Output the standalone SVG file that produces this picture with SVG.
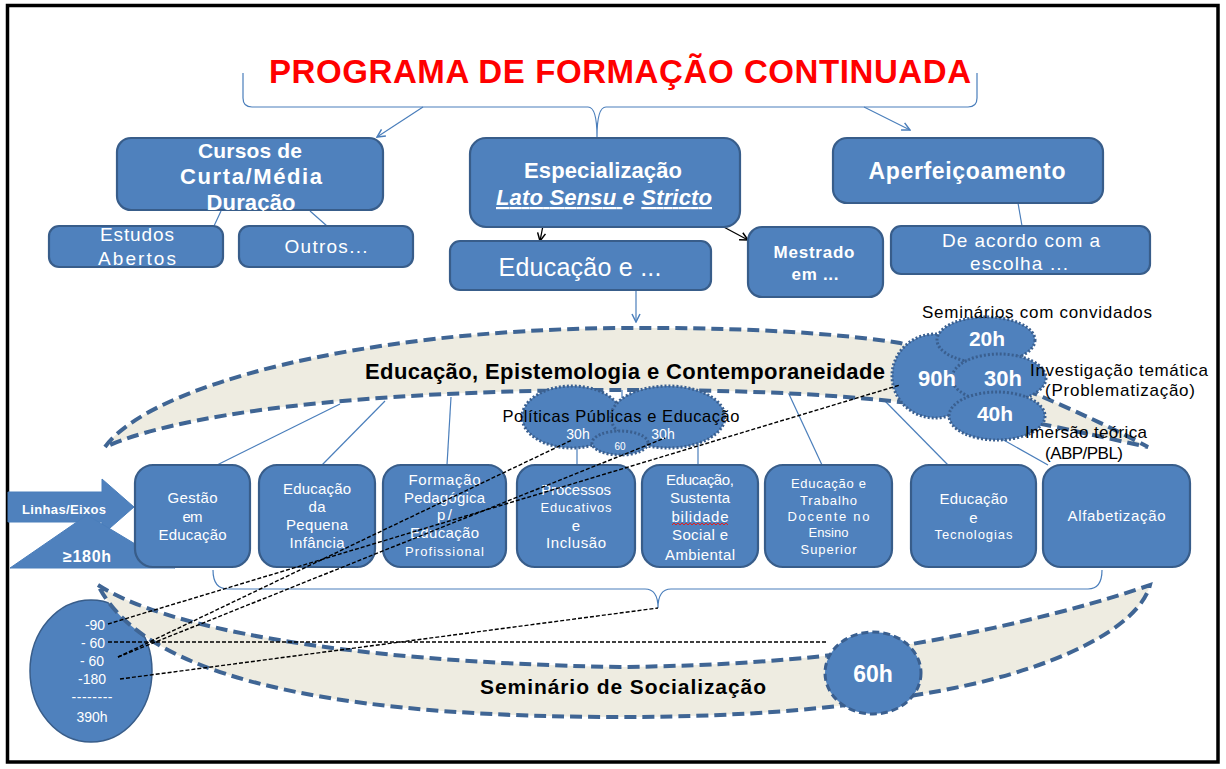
<svg xmlns="http://www.w3.org/2000/svg" width="1226" height="769" viewBox="0 0 1226 769">
<defs>
<style>
text{font-family:"Liberation Sans",Arial,sans-serif}
.box{fill:#4F81BD;stroke:#385D8A;stroke-width:2.2}
.w{fill:#fff;text-anchor:middle}
.k{fill:#000;text-anchor:middle}
.b{font-weight:bold}
.conn{stroke:#4A7EBB;stroke-width:1.2;fill:none}
.blk{stroke:#000;stroke-width:1.3;fill:none}
.dsh{stroke:#000;stroke-width:1.4;stroke-dasharray:4 2;fill:none}
.band{fill:#EEECE1;stroke:#3F6594;stroke-width:4;stroke-dasharray:12 6}
.dot{fill:#4F81BD;stroke:#3A5F8F;stroke-width:3;stroke-dasharray:2 2}
</style>
<marker id="ab" viewBox="0 0 10 10" refX="9" refY="5" markerWidth="10" markerHeight="10" markerUnits="userSpaceOnUse" orient="auto"><path d="M1,1 L9,5 L1,9" fill="none" stroke="#4A7EBB" stroke-width="1.5"/></marker>
<marker id="ak" viewBox="0 0 10 10" refX="9" refY="5" markerWidth="10" markerHeight="10" markerUnits="userSpaceOnUse" orient="auto"><path d="M1,1 L9,5 L1,9" fill="none" stroke="#000" stroke-width="1.5"/></marker>
</defs>
<rect x="0" y="0" width="1226" height="769" fill="#fff"/>
<rect x="7.5" y="5.5" width="1210.5" height="756.5" fill="none" stroke="#000" stroke-width="3.5"/>

<g id="title">
<text x="620" y="83" font-size="33" font-weight="bold" fill="#FF0000" text-anchor="middle" textLength="702">PROGRAMA DE FORMAÇÃO CONTINUADA</text>
<path class="conn" d="M243,73 L243,98 Q243,107 252,107 L588,107 Q597,107 597,137 Q597,107 606,107 L968,107 Q977,107 977,98 L977,73"/>
</g>

<g id="connectors">
<line class="conn" x1="423" y1="107" x2="377" y2="137" marker-end="url(#ab)"/>
<line class="conn" x1="864" y1="107" x2="910" y2="130" marker-end="url(#ab)"/>
<line class="conn" x1="221" y1="211" x2="214" y2="226"/>
<line class="conn" x1="310" y1="211" x2="327" y2="226"/>
<line class="conn" x1="1018" y1="203" x2="1022" y2="226"/>
<line class="conn" x1="636" y1="290" x2="636" y2="322" marker-end="url(#ab)"/>
<line class="conn" x1="340" y1="404" x2="217" y2="465"/>
<line class="conn" x1="385" y1="401" x2="322" y2="465"/>
<line class="conn" x1="451" y1="397" x2="447" y2="465"/>
<line class="conn" x1="577" y1="440" x2="577" y2="465"/>
<line class="conn" x1="698" y1="440" x2="698" y2="465"/>
<line class="conn" x1="788" y1="392" x2="822" y2="465"/>
<line class="conn" x1="884" y1="400" x2="948" y2="465"/>
<line class="conn" x1="1000" y1="438" x2="1048" y2="465"/>
<line class="conn" x1="622" y1="388" x2="622" y2="398"/>
<path class="conn" d="M213,570 Q213,589 228,589 L645,589 Q658,589 658,608 Q658,589 671,589 L1088,589 Q1102,589 1102,570"/>
<line class="blk" x1="547" y1="205" x2="540" y2="241" marker-end="url(#ak)"/>
<line class="blk" x1="692" y1="210" x2="748" y2="240" marker-end="url(#ak)"/>
</g>

<g id="cursos">
<rect class="box" x="117" y="138" width="266" height="72" rx="14"/>
<text class="w b" x="250" y="158" font-size="21" textLength="104">Cursos de</text>
<text class="w b" x="251" y="184" font-size="22" textLength="142">Curta/Média</text>
<text class="w b" x="251" y="210" font-size="22" textLength="89">Duração</text>
</g>
<g id="estudos">
<rect class="box" x="49" y="226" width="174" height="41" rx="10"/>
<text class="w" x="137" y="241" font-size="19" textLength="74">Estudos</text>
<text class="w" x="137" y="265" font-size="19" textLength="78">Abertos</text>
</g>
<g id="outros">
<rect class="box" x="239" y="226" width="174" height="41" rx="10"/>
<text class="w" x="326" y="253" font-size="19" textLength="83">Outros...</text>
</g>
<g id="especializacao">
<rect class="box" x="470" y="138" width="270" height="89" rx="16"/>
<text class="w b" x="603" y="178" font-size="22" textLength="158">Especialização</text>
<text class="w b" x="604" y="205" font-size="22" font-style="italic" textLength="216"><tspan text-decoration="underline">Lato Sensu </tspan>e <tspan text-decoration="underline">Stricto</tspan></text>
</g>
<g id="educacao-e">
<rect class="box" x="450" y="241" width="261" height="49" rx="10"/>
<text class="w" x="580" y="276" font-size="25" textLength="163">Educação e ...</text>
</g>
<g id="mestrado">
<rect class="box" x="748" y="227" width="135" height="70" rx="14"/>
<text class="w b" x="814" y="258" font-size="17" textLength="81">Mestrado</text>
<text class="w b" x="815" y="280" font-size="17" textLength="47">em ...</text>
</g>
<g id="aperfeicoamento">
<rect class="box" x="833" y="138" width="270" height="65" rx="14"/>
<text class="w b" x="967" y="179" font-size="23" textLength="197">Aperfeiçoamento</text>
</g>
<g id="de-acordo">
<rect class="box" x="891" y="226" width="259" height="48" rx="10"/>
<text class="w" x="1021" y="247" font-size="19" textLength="158">De acordo com a</text>
<text class="w" x="1019" y="270" font-size="19" textLength="98">escolha ...</text>
</g>

<g id="band-epistemologia">
<path class="band" d="M105,447 C150,385 360,330 620,328 C760,327 850,335 900,343 C960,360 1090,415 1148,447 C1100,437 1000,412 900,402 C800,391 700,390 620,390 C420,390 200,405 105,447 Z"/>
<text class="k b" x="625" y="379" font-size="22" textLength="520">Educação, Epistemologia e Contemporaneidade</text>
</g>

<g id="politicas">
<ellipse class="dot" cx="572" cy="417" rx="50" ry="31"/>
<ellipse class="dot" cx="668" cy="417" rx="57" ry="31"/>
<ellipse class="dot" cx="620" cy="443" rx="28" ry="12"/>
<text class="k" x="621" y="422" font-size="16.5" textLength="237">Políticas Públicas e Educação</text>
<text class="w" x="578" y="439" font-size="14">30h</text>
<text class="w" x="663" y="439" font-size="14">30h</text>
<text class="w" x="620" y="450" font-size="10">60</text>
</g>

<g id="cluster90">
<ellipse class="dot" cx="935" cy="376" rx="43" ry="42"/>
<ellipse class="dot" cx="986" cy="340" rx="49" ry="23"/>
<ellipse class="dot" cx="999" cy="378" rx="47" ry="24"/>
<ellipse class="dot" cx="997" cy="416" rx="48" ry="24"/>
<text class="w b" x="987" y="346" font-size="21">20h</text>
<text class="w b" x="937" y="386" font-size="22">90h</text>
<text class="w b" x="1003" y="386" font-size="22">30h</text>
<text class="w b" x="995" y="421" font-size="21">40h</text>
<text class="k" x="1037" y="318" font-size="17" textLength="230">Seminários com convidados</text>
<text class="k" x="1119" y="376" font-size="17" textLength="178">Investigação temática</text>
<text class="k" x="1120" y="396" font-size="17" textLength="150">(Problematização)</text>
<text class="k" x="1086" y="438" font-size="17" textLength="122">Imersão teórica</text>
<text class="k" x="1084" y="459" font-size="17" textLength="78">(ABP/PBL)</text>
</g>

<g id="linhas">
<polygon points="8,492 102,492 102,479 134,507 102,535 102,522 8,522" fill="#4F81BD" stroke="#4A7EBB" stroke-width="1"/>
<text class="w b" x="64" y="514" font-size="13" textLength="84">Linhas/Eixos</text>
</g>
<g id="min180">
<polygon points="10,568 87,515 175,568" fill="#4F81BD" stroke="#4A7EBB" stroke-width="1"/>
<text class="w b" x="87" y="562" font-size="16" textLength="48">≥180h</text>
</g>

<g id="gestao">
<rect class="box" x="135" y="465" width="115" height="102" rx="18"/>
<text class="w" x="192.5" y="503" font-size="15" textLength="50">Gestão</text>
<text class="w" x="192.5" y="522" font-size="15" textLength="20">em</text>
<text class="w" x="192.5" y="540" font-size="15" textLength="68">Educação</text>
</g>
<g id="pequena-infancia">
<rect class="box" x="259" y="465" width="116" height="102" rx="18"/>
<text class="w" x="317" y="494" font-size="15" textLength="68">Educação</text>
<text class="w" x="317" y="512" font-size="15" textLength="17">da</text>
<text class="w" x="317" y="530" font-size="15" textLength="62">Pequena</text>
<text class="w" x="317" y="548" font-size="15" textLength="55">Infância</text>
</g>
<g id="formacao">
<rect class="box" x="383" y="465" width="123" height="102" rx="18"/>
<text class="w" x="444.5" y="485" font-size="15" textLength="72">Formação</text>
<text class="w" x="444.5" y="503" font-size="15" textLength="81">Pedagógica</text>
<text class="w" x="444.5" y="520" font-size="15" textLength="15">p/</text>
<text class="w" x="444.5" y="538" font-size="15" textLength="69">Educação</text>
<text class="w" x="444.5" y="556" font-size="13" textLength="79">Profissional</text>
</g>
<g id="processos">
<rect class="box" x="517" y="465" width="118" height="102" rx="18"/>
<text class="w" x="576" y="495" font-size="15" textLength="70">Processos</text>
<text class="w" x="576" y="512" font-size="13" textLength="71">Educativos</text>
<text class="w" x="576" y="531" font-size="15">e</text>
<text class="w" x="576" y="548" font-size="15" textLength="60">Inclusão</text>
</g>
<g id="sustentabilidade">
<rect class="box" x="642" y="465" width="116" height="102" rx="18"/>
<text class="w" x="700" y="485" font-size="15" textLength="68">Educação,</text>
<text class="w" x="700" y="503" font-size="15" textLength="60">Sustenta</text>
<text class="w" x="700" y="522" font-size="15" textLength="57">bilidade</text>
<path d="M672,525 l2,-2 l2,2 l2,-2 l2,2 l2,-2 l2,2 l2,-2 l2,2 l2,-2 l2,2 l2,-2 l2,2 l2,-2 l2,2 l2,-2 l2,2 l2,-2 l2,2 l2,-2 l2,2 l2,-2 l2,2 l2,-2 l2,2 l2,-2 l2,2 l2,-2 l2,2" fill="none" stroke="#E02020" stroke-width="1"/>
<text class="w" x="700" y="540" font-size="15" textLength="56">Social e</text>
<text class="w" x="700" y="560" font-size="15" textLength="70">Ambiental</text>
</g>
<g id="trabalho-docente">
<rect class="box" x="765" y="465" width="127" height="102" rx="18"/>
<text class="w" x="828.5" y="488" font-size="13" textLength="75">Educação e</text>
<text class="w" x="828.5" y="505" font-size="13" textLength="57">Trabalho</text>
<text class="w" x="828.5" y="521" font-size="13" textLength="82">Docente no</text>
<text class="w" x="828.5" y="537" font-size="13" textLength="40">Ensino</text>
<text class="w" x="828.5" y="554" font-size="13" textLength="56">Superior</text>
</g>
<g id="tecnologias">
<rect class="box" x="911" y="465" width="125" height="102" rx="18"/>
<text class="w" x="973.5" y="504" font-size="15" textLength="68">Educação</text>
<text class="w" x="973.5" y="523" font-size="15">e</text>
<text class="w" x="973.5" y="539" font-size="13" textLength="78">Tecnologias</text>
</g>
<g id="alfabetizacao">
<rect class="box" x="1043" y="465" width="147" height="102" rx="18"/>
<text class="w" x="1116.5" y="521" font-size="15" textLength="98">Alfabetização</text>
</g>

<g id="total">
<ellipse cx="91" cy="671" rx="61" ry="71" fill="#4F81BD" stroke="#385D8A" stroke-width="1.5"/>
</g>

<g id="band-socializacao">
<path class="band" d="M98,585 C160,625 330,662 620,667 C720,666 800,660 873,650 C960,638 1080,610 1150,585 C1140,625 1060,672 916,695 C850,706 760,717 620,717 C380,717 150,690 98,585 Z"/>
<text class="k b" x="623" y="694" font-size="21" textLength="286">Seminário de Socialização</text>
</g>
<g id="seminario60">
<ellipse cx="873" cy="673" rx="48" ry="41" fill="#4F81BD" stroke="#3A5F8F" stroke-width="3" stroke-dasharray="7 4"/>
<text class="w b" x="873" y="682" font-size="23">60h</text>
</g>

<g id="total-text">
<text class="w" x="95" y="630" font-size="14">-90</text>
<text class="w" x="93" y="648" font-size="14">- 60</text>
<text class="w" x="92" y="666" font-size="14">- 60</text>
<text class="w" x="92" y="684" font-size="14">-180</text>
<text class="w" x="92" y="702" font-size="14" textLength="41">--------</text>
<text class="w" x="92" y="722" font-size="14">390h</text>
</g>

<g id="sum-links">
<line class="dsh" x1="108" y1="624" x2="900" y2="385"/>
<line class="dsh" x1="108" y1="642" x2="828" y2="642"/>
<line class="dsh" x1="118" y1="657" x2="572" y2="440"/>
<line class="dsh" x1="118" y1="657" x2="665" y2="438"/>
<line class="dsh" x1="120" y1="679" x2="658" y2="608"/>
</g>
</svg>
